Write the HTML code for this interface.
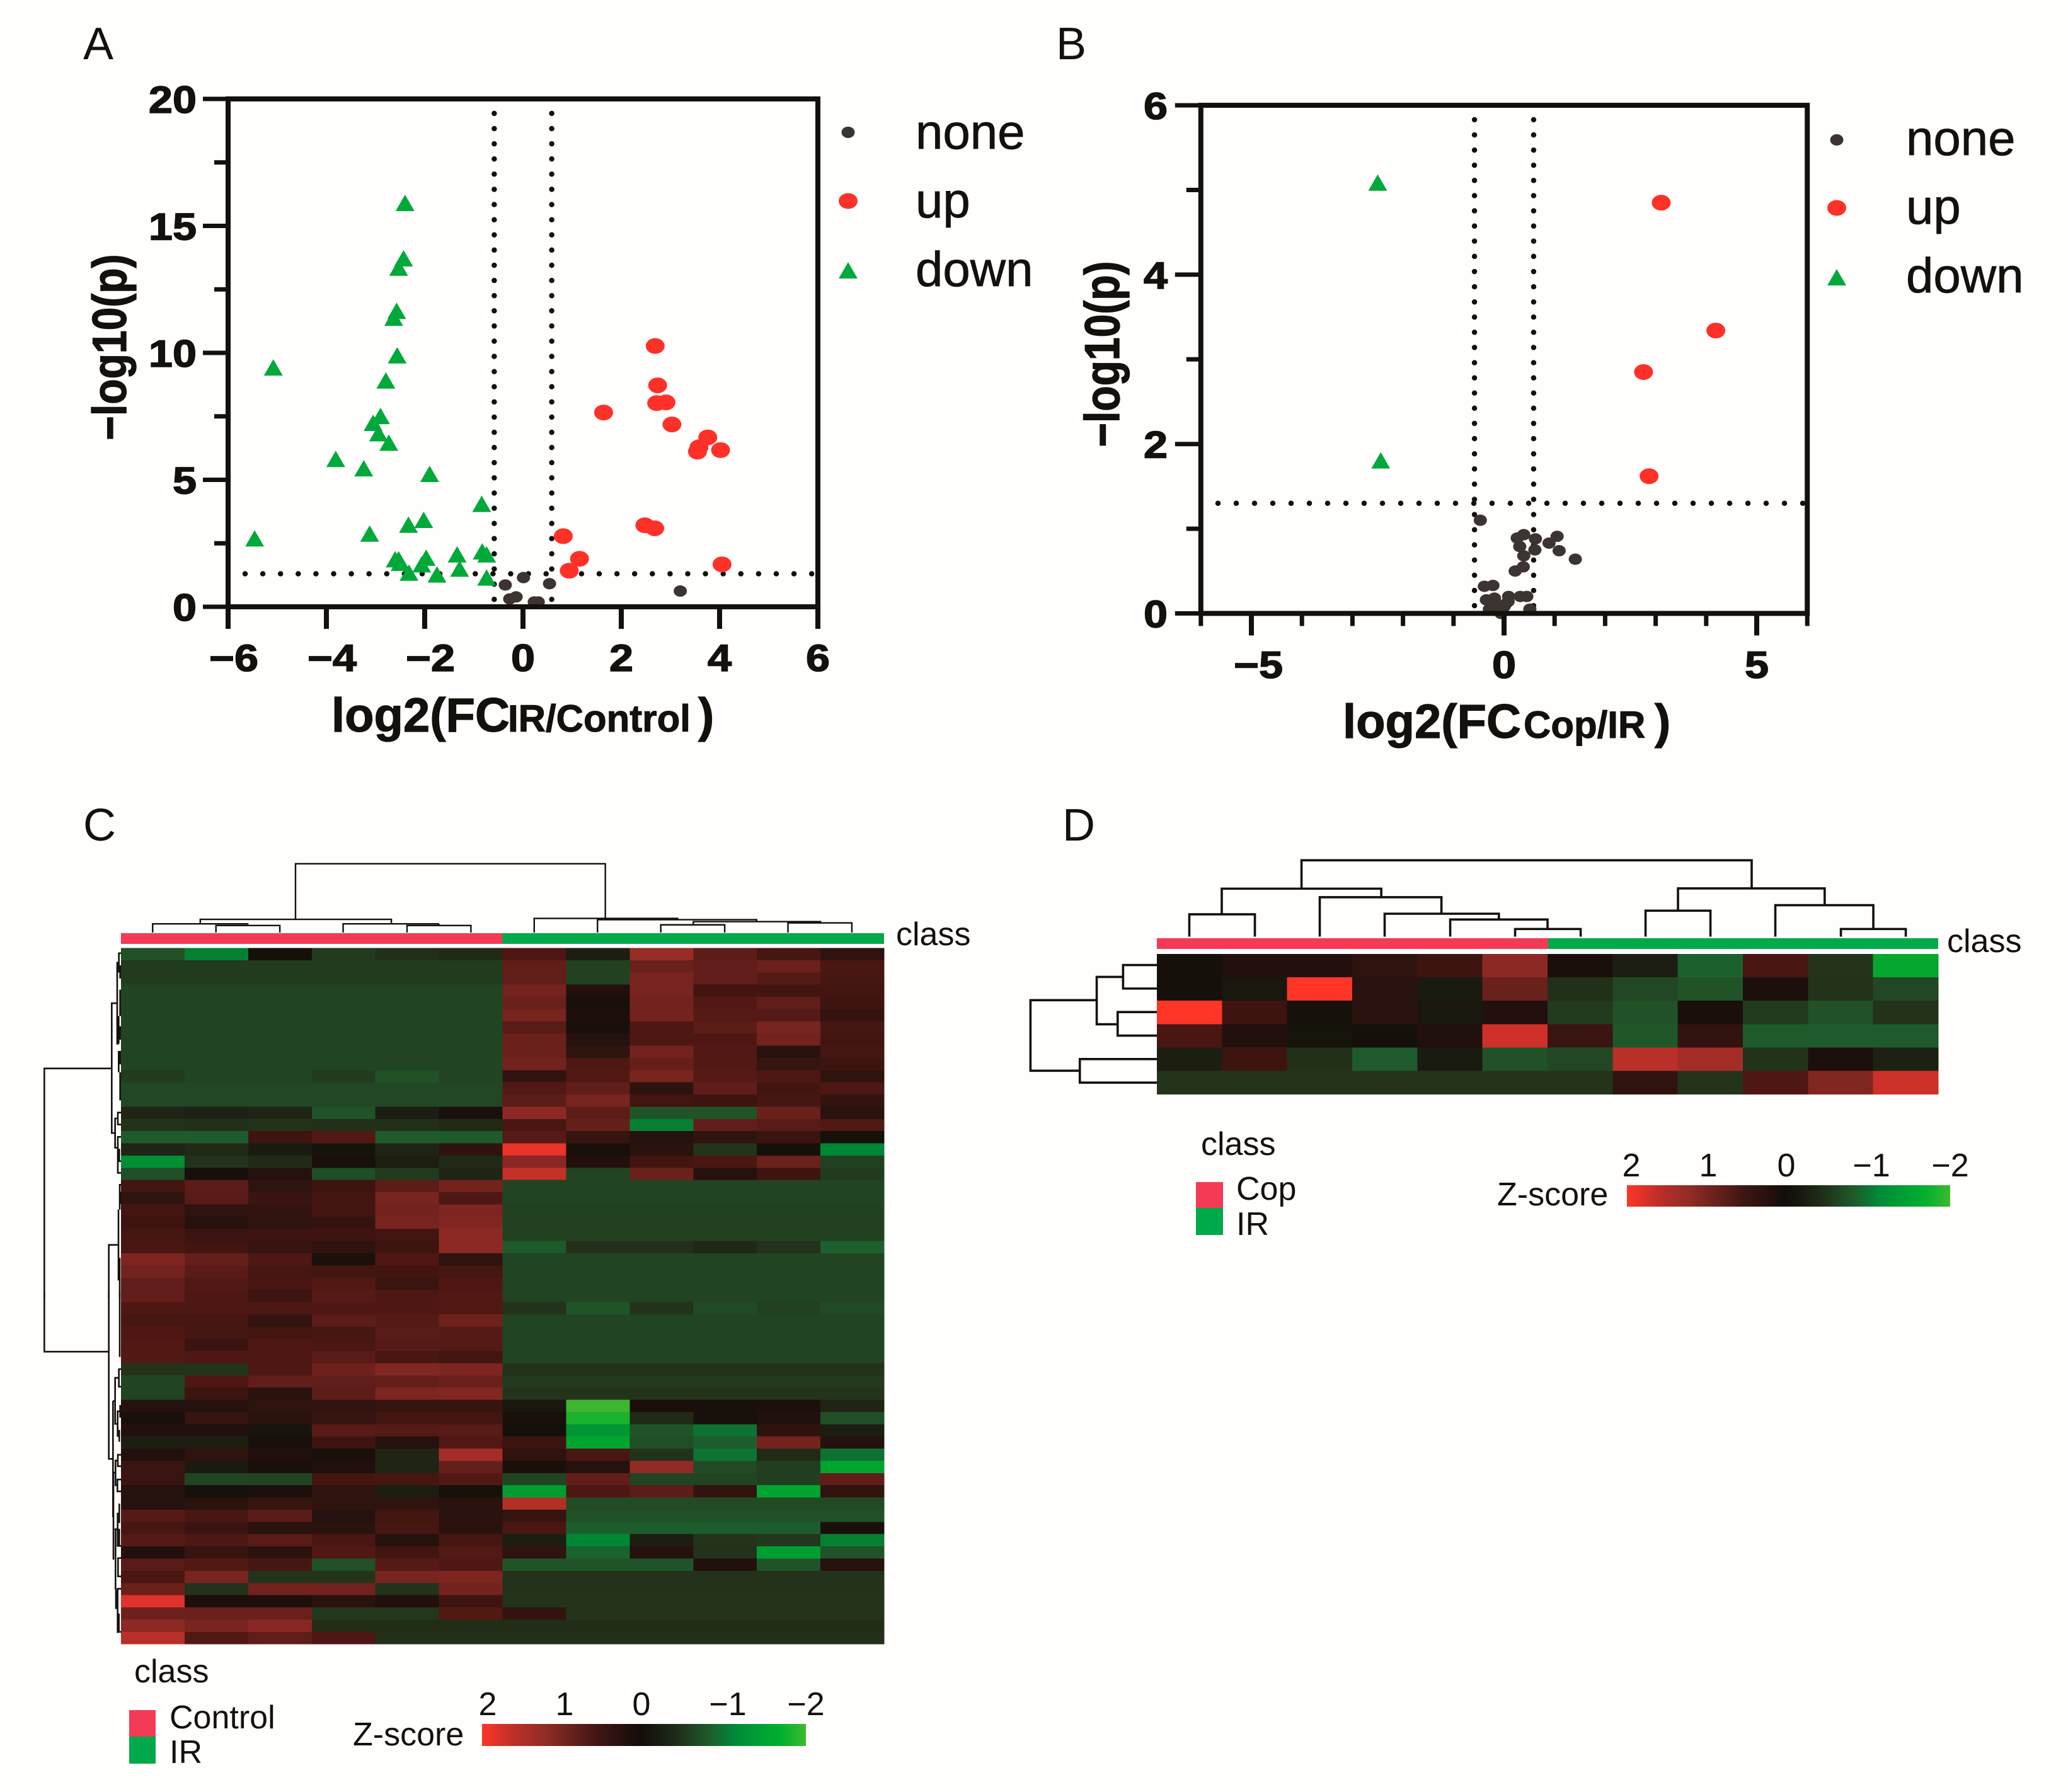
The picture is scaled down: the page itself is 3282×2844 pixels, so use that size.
<!DOCTYPE html>
<html lang="en">
<head>
<meta charset="utf-8">
<title>Volcano plots and heatmaps</title>
<style>
html,body{margin:0;padding:0;background:#fffefc}
svg{display:block}
text{font-family:"Liberation Sans",Arial,sans-serif;fill:#14100c}
.tick{font-weight:700;font-size:60px;stroke:#14100c;stroke-width:1.5px}
.title{font-weight:700;font-size:74px;stroke:#14100c;stroke-width:1.2px}
.sub{font-weight:700;font-size:60px;stroke:#14100c;stroke-width:1px}
.leg{font-size:78px;stroke:#14100c;stroke-width:.8px}
.panel{font-size:72px}
.small{font-size:52px}
.dend{fill:none;stroke:#14100c;vector-effect:non-scaling-stroke}
.dend path{vector-effect:non-scaling-stroke}
</style>
</head>
<body>
<svg id="fig" xmlns="http://www.w3.org/2000/svg" width="3282" height="2844" viewBox="0 0 3282 2844">
<defs>
<linearGradient id="zgrad" x1="0" x2="1" y1="0" y2="0">
<stop offset="0" stop-color="#ff3527"/><stop offset=".1" stop-color="#bb3029"/><stop offset=".2" stop-color="#8e2b25"/><stop offset=".36" stop-color="#3f1613"/><stop offset=".49" stop-color="#120d09"/><stop offset=".6" stop-color="#1f2c18"/><stop offset=".7" stop-color="#1f5a2b"/><stop offset=".78" stop-color="#008a3a"/><stop offset=".92" stop-color="#00b02f"/><stop offset="1" stop-color="#3dba2e"/>
</linearGradient>
</defs>
<rect width="3282" height="2844" fill="#fffefc"/>

<text class="panel" x="132" y="94">A</text>
<text class="panel" x="1676" y="94">B</text>
<text class="panel" x="132" y="1334">C</text>
<text class="panel" x="1686" y="1334">D</text>

<!-- Panel A -->
<g id="plotA"></g>
<text class="title" text-anchor="middle" transform="translate(200,551) rotate(-90) scale(1,1.15)" style="font-size:66px">−log10(p)</text>
<text class="title" x="526" y="1161" style="font-size:76px">log2(FC</text>
<text class="sub" x="806" y="1161">IR/Control</text>
<text class="title" x="1108" y="1161" style="font-size:76px">)</text>
<text class="leg" x="1453" y="236">none</text>
<text class="leg" x="1453" y="345">up</text>
<text class="leg" x="1453" y="454">down</text>

<!-- Panel B -->
<g id="plotB"></g>
<text class="title" text-anchor="middle" transform="translate(1776,562) rotate(-90) scale(1,1.18)" style="font-size:66px">−log10(p)</text>
<text class="title" x="2131" y="1171" style="font-size:76px">log2(FC</text>
<text class="sub" x="2418" y="1171">Cop/IR</text>
<text class="title" x="2626" y="1171" style="font-size:76px">)</text>
<text class="leg" x="3025" y="246">none</text>
<text class="leg" x="3025" y="355">up</text>
<text class="leg" x="3025" y="464">down</text>

<!-- Panel C -->
<g class="dend" stroke-width="2.4" transform="translate(50,1280) scale(.9566,.5102)">
<path vector-effect="non-scaling-stroke" d="M438 350V178H952V347M280 364V351H597V365M201 392V365H360M306 392V370H412V392M517 392V365H676M676 370V365M623 392V370H729V392M834 392V348H1072V352M939 392V352H1203V358M1098 368V358H1309V362M1044 392V368H1150V392M1255 392V362H1361V392"/>
</g>
<rect x="192" y="1481" width="605" height="17" fill="#f43a55"/>
<rect x="797" y="1481" width="606" height="17" fill="#00a94a"/>
<text class="small" x="1422" y="1500">class</text>
<g id="heatC"></g>
<g class="dend" stroke-width="2.6" transform="translate(60,1500) scale(.33333,.35714)">
<path vector-effect="non-scaling-stroke" d="M31 1568V548H352M378 258H352V835H368M386 78H378V438H385M396 36H386V118H396M392 90V148M392 198V315M385 315V438M392 360V420M385 470V565M392 470V530M392 565V690M381 770H368V900H381M396 744H381V797H396M396 852H381V1012H396M388 905V960M396 960H381M384 1332H338V1568M384 1175V1490M396 1065H390V1175M392 1095V1150M390 1390V1568"/>
</g>
<g class="dend" stroke-width="2.6" transform="translate(60,2050) scale(.33333,.36350)">
<path vector-effect="non-scaling-stroke" d="M31 0V262H338M338 0V730H356M390 0V285M358 477V985M358 477H368M386 376H368V577H380M396 338H386V415H396M392 522H380V630H388M392 495V550M388 603V655M360 790V1170M360 790H370M381 737H370V845H378M396 712H381V762H396M396 820H379V872H396M365 1037H378M370 1037V1300M380 965V1110H396M388 925V1010M388 1035V1110M396 1163H382V1243H396M372 1300V1385M396 1297H380V1380M380 1380V1490M386 1405V1485M396 1485H380"/>
</g>
<text class="small" x="213" y="2670">class</text>
<rect x="205" y="2714" width="42" height="42" fill="#f43a55"/>
<rect x="205" y="2756" width="42" height="43" fill="#00a94a"/>
<text class="small" x="269" y="2743">Control</text>
<text class="small" x="269" y="2798">IR</text>
<text class="small" x="560" y="2770">Z-score</text>
<rect x="765" y="2736" width="514" height="35" fill="url(#zgrad)"/>
<g id="cbC"></g>

<!-- Panel D -->
<g class="dend" stroke-width="3.6" transform="translate(1600,1280) scale(1.0727,.4847)">
<path vector-effect="non-scaling-stroke" d="M434 268V176H1100V268M316 353V269H552V297M268 426V353H365V426M461 426V297H641V351M557 426V351H726V370M654 426V370H798V400M750 426V401H847V426M991 340V268H1208V323M943 426V341H1039V426M1135 426V323H1280V401M1232 426V401H1328V426"/>
</g>
<g class="dend" stroke-width="3.6" transform="translate(1600,1280) scale(1.0727,.4847)">
<path vector-effect="non-scaling-stroke" d="M131 634H33V865H106M170 558H131V713H162M220 519H170V596H220M220 673H162V750H220M220 827H106V904H220"/>
</g>
<rect x="1836" y="1489" width="621" height="17" fill="#f43a55"/>
<rect x="2457" y="1489" width="619" height="17" fill="#00a94a"/>
<text class="small" x="3090" y="1511">class</text>
<g id="heatD"></g>
<text class="small" x="1906" y="1833">class</text>
<rect x="1898" y="1876" width="43" height="41" fill="#f43a55"/>
<rect x="1898" y="1917" width="43" height="43" fill="#00a94a"/>
<text class="small" x="1962" y="1904">Cop</text>
<text class="small" x="1962" y="1960">IR</text>
<text class="small" x="2376" y="1913">Z-score</text>
<rect x="2582" y="1881" width="513" height="34" fill="url(#zgrad)"/>
<g id="cbD"></g>
</svg>

<script>
// ===== Panel A values =====
const aNoneX=[0.01,-0.36,0.54,3.20,-0.27,-0.14,0.23,0.31];
const aNoneY=[1.15,0.86,0.91,0.62,0.31,0.39,0.19,0.19];
const aUpX=[2.69,2.74,2.72,2.91,1.64,3.03,3.76,3.58,3.55,4.02,2.48,2.68,0.82,1.15,0.94,4.05];
const aUpY=[10.27,8.72,8.02,8.05,7.65,7.18,6.67,6.28,6.11,6.17,3.21,3.09,2.78,1.89,1.42,1.67];
const aDownX=[-2.40,-2.43,-2.53,-2.57,-2.63,-2.56,-2.79,-5.08,-2.90,-3.05,-2.94,-2.73,-3.81,-3.24,-1.90,-0.84,-2.02,-2.33,-3.12,-5.46,-2.53,-2.60,-2.50,-1.97,-2.06,-2.32,-1.75,-1.34,-1.29,-0.83,-0.74,-0.74];
const aDownY=[15.88,13.70,13.33,11.63,11.36,9.88,8.89,9.40,7.49,7.22,6.81,6.44,5.80,5.43,5.21,4.03,3.40,3.21,2.86,2.67,1.85,1.85,1.71,1.91,1.65,1.32,1.25,2.04,1.48,2.16,2.04,1.13];
const aXTicks=[-6,-4,-2,0,2,4,6];
const aXMinor=[];
const aYTicks=[0,5,10,15,20];
const aYMinor=[2.5,7.5,12.5,17.5];
const aFcCut=0.585;
const aPCut=1.3;

// ===== Panel B values =====
const bNoneX=[-0.47,0.39,0.26,0.62,1.05,0.89,0.31,0.61,1.09,0.39,1.41,0.38,0.22,-0.22,-0.39,-0.35,-0.19,0.09,0.32,0.45,0.08,0,-0.29,0.51,-0.06,0.03,-0.17];
const bNoneY=[1.10,0.93,0.89,0.88,0.91,0.83,0.79,0.75,0.74,0.68,0.64,0.55,0.50,0.33,0.32,0.16,0.18,0.20,0.20,0.20,0.14,0.08,0.05,0.05,0,0.11,0.09];
const bUpX=[3.11,4.19,2.76,2.87];
const bUpY=[4.85,3.34,2.85,1.62];
const bDownX=[-2.50,-2.44];
const bDownY=[5.08,1.80];
const bXTicks=[-5,0,5];
const bXMinor=[-6,-4,-3,-2,-1,1,2,3,4,6];
const bYTicks=[0,2,4,6];
const bYMinor=[1,3,5];
const bFcCut=0.585;
const bPCut=1.3;

// ===== Heatmap C z-scores (57 rows x 12 samples) =====
const heatCValues=[
[-1.05,-1.7,0,-.7,-.5,-.4,.7,-.2,1.5,.9,.6,.3],
[-.7,-.7,-.7,-.7,-.7,-.7,.95,-.8,1.05,.95,1.05,.65],
[-.7,-.7,-.7,-.7,-.7,-.7,.95,-.8,1.2,.95,.8,.6],
[-.85,-.85,-.85,-.85,-.85,-.85,1.15,.15,1.2,.55,.55,.55],
[-.85,-.85,-.85,-.85,-.85,-.85,1.05,.05,1.15,.75,.95,.5],
[-.85,-.85,-.85,-.85,-.85,-.85,1.2,.1,1.15,.8,.8,.35],
[-.85,-.85,-.85,-.85,-.85,-.85,.85,.05,.7,.9,1.2,.6],
[-.85,-.85,-.85,-.85,-.85,-.85,1.05,.2,.7,.7,1.15,.55],
[-.85,-.85,-.85,-.85,-.85,-.85,1.05,.3,1.15,.75,.25,.6],
[-.85,-.85,-.85,-.85,-.85,-.85,1.15,.7,1.0,.75,.4,.5],
[-.7,-.85,-.85,-.7,-1.05,-.85,.35,.75,1.2,.8,.7,.3],
[-.9,-.9,-.9,-.9,-.9,-.9,.75,.95,.3,.95,.55,.7],
[-.9,-.9,-.9,-.9,-.9,-.9,.9,1.2,.55,.5,.6,.35],
[-.3,-.25,-.3,-1.1,-.2,.05,1.4,.9,-1.1,-1.1,1.05,.25],
[-.55,-.5,-.55,-.5,-.5,-.4,.65,1.0,-1.7,.95,.85,.75],
[-1.2,-1.2,.5,.75,-1.2,-1.2,.8,.4,.2,.3,.45,.02],
[-.3,-.4,-.15,-.05,-.3,.3,2.0,.05,.25,-.6,.02,-1.75],
[-1.8,-.55,-.4,.05,-.2,-.4,1.35,.15,.55,.65,1.05,-.8],
[-1.0,0,.2,-1.0,-.7,-.3,1.8,-.85,1.05,.2,.5,-.7],
[.55,.9,.3,.5,.9,1.15,-.85,-.85,-.85,-.85,-.85,-.85],
[.3,.85,.45,.55,1.2,.7,-.85,-.85,-.85,-.85,-.85,-.85],
[.55,.3,.35,.55,1.15,1.25,-.8,-.8,-.8,-.8,-.8,-.8],
[.5,.2,.3,.35,1.2,1.3,-.8,-.8,-.8,-.8,-.8,-.8],
[.6,.45,.5,.5,.55,1.4,-.8,-.8,-.8,-.8,-.8,-.8],
[.65,.55,.4,.3,.5,1.4,-1.2,-.5,-.5,-.35,-.55,-1.3],
[1.25,1.0,.7,.1,.7,.3,-.85,-.85,-.85,-.85,-.85,-.85],
[1.15,.85,.6,.55,.55,.6,-.85,-.85,-.85,-.85,-.85,-.85],
[.95,.75,.65,.75,.45,.7,-.85,-.85,-.85,-.85,-.85,-.85],
[.95,.7,.5,.8,.7,.75,-.85,-.85,-.85,-.85,-.85,-.85],
[.7,.7,.7,.7,.7,.75,-.55,-1.1,-.55,-.95,-.8,-.95],
[.6,.6,.35,.9,.8,1.1,-.85,-.85,-.85,-.85,-.85,-.85],
[.7,.6,.55,.6,.85,.8,-.85,-.85,-.85,-.85,-.85,-.85],
[.75,.45,.7,.65,.8,.8,-.85,-.85,-.85,-.85,-.85,-.85],
[.75,.7,.7,.85,.65,.55,-.85,-.85,-.85,-.85,-.85,-.85],
[-.6,-.6,.7,1.1,1.3,1.25,-.55,-.55,-.55,-.55,-.55,-.55],
[-.85,.7,.95,.95,1.0,1.05,-.7,-.7,-.7,-.7,-.7,-.7],
[-.85,.5,.25,.9,1.25,1.3,-.6,-.6,-.6,-.6,-.6,-.6],
[.2,.2,.3,.35,.4,.4,-.1,-2.4,.08,.04,.1,-.3],
[.05,.4,.25,.4,.55,.55,.05,-2.2,-.4,.04,.15,-1.0],
[.15,.15,-.05,.85,.8,.85,.02,-1.85,-1.1,-1.6,.3,-.2],
[-.2,-.2,.05,.5,.2,.75,.5,-1.95,-1.0,-1.25,1.15,.2],
[.15,.3,.15,.05,-.3,1.6,.3,.65,-.55,-1.6,-.4,-1.6],
[.45,-.15,.05,.15,-.3,1.0,.08,.2,1.45,-.95,-.75,-1.95],
[.45,-.85,-.85,.55,.6,.75,-.85,.95,-.85,-.85,-.75,.95],
[.2,-.02,.1,.3,-.2,-.02,-1.9,.7,.9,.35,-1.95,.35],
[.2,.25,.4,.3,.3,.25,1.7,-.95,-.95,-.95,-.95,-.95],
[.8,.65,.85,.2,.55,.25,.4,-1.05,-1.05,-1.05,-1.05,-1.05],
[.6,.45,.25,.25,.6,.25,.65,-1.25,-1.25,-1.25,-1.25,.05],
[.8,.7,.85,.65,.2,.6,-.2,-1.75,-.2,-.6,-.65,-1.7],
[.15,.4,.25,.75,.55,.75,.3,-1.35,.2,-.55,-1.9,-1.1],
[.85,.75,.6,-1.05,.8,.7,-1.1,-1.1,-1.1,.15,-1.1,.2],
[.65,1.2,-.6,-.6,1.2,1.25,-.55,-.55,-.55,-.55,-.55,-.55],
[1.05,-.55,1.15,1.15,-.55,1.15,-.55,-.55,-.55,-.55,-.55,-.55],
[1.95,.1,.1,.25,.15,.5,-.6,-.6,-.6,-.6,-.6,-.6],
[1.1,1.05,1.05,-.65,-.65,.75,.35,-.6,-.6,-.6,-.6,-.6],
[1.4,1.2,1.35,-.45,-.45,-.45,-.45,-.45,-.45,-.45,-.45,-.45],
[1.75,.75,.95,.7,-.5,-.5,-.5,-.5,-.5,-.5,-.5,-.5]
];

// ===== Heatmap D z-scores (6 rows x 12 samples) =====
const heatDValues=[
[.02,.15,.15,.3,.5,1.4,.05,-.2,-1.3,.65,-.6,-2.0],
[.02,-.1,2.1,.25,-.15,1.05,-.5,-.9,-1.1,.1,-.55,-.9],
[2.1,.5,-.02,.25,-.1,.15,-.7,-1.05,.05,-.7,-1.05,-.55],
[.65,.15,-.05,0,.15,1.85,.45,-1.15,.35,-1.2,-1.2,-1.2],
[-.2,.5,-.5,-1.2,-.15,-1.05,-.9,1.75,1.6,-.55,.1,-.25],
[-.6,-.6,-.6,-.6,-.6,-.6,-.6,.3,-.6,.7,1.3,1.85]
];

const zBarLabels=["2","1","0","−1","−2"];

// ===== colour scale =====
const zStops=[-2.4,-2.2,-1.95,-1.75,-1.6,-1.3,-1.1,-.85,-.6,-.4,-.2,0,.1,.3,.5,.7,.9,1.1,1.3,1.5,1.75,1.95,2.1];
const zColors=[[63,181,48],[26,179,44],[0,165,48],[0,135,52],[14,115,50],[28,96,46],[32,84,40],[33,68,35],[35,52,27],[33,42,22],[28,30,18],[21,16,10],[28,15,12],[46,19,14],[62,20,16],[78,23,19],[92,28,24],[110,33,28],[130,38,34],[152,43,38],[185,48,40],[224,50,42],[255,53,39]];
function zColor(z){
  if(z<=zStops[0])return 'rgb('+zColors[0].join(',')+')';
  for(let i=1;i<zStops.length;i++){
    if(z<=zStops[i]){
      const t=(z-zStops[i-1])/(zStops[i]-zStops[i-1]);
      const c=zColors[i-1].map((v,k)=>Math.round(v+(zColors[i][k]-v)*t));
      return 'rgb('+c.join(',')+')';
    }
  }
  return 'rgb('+zColors[zColors.length-1].join(',')+')';
}

const NS='http://www.w3.org/2000/svg';
function mk(parent,tag,attrs){
  const el=document.createElementNS(NS,tag);
  for(const k in attrs)el.setAttribute(k,attrs[k]);
  parent.appendChild(el);
  return el;
}

const INK='#14100c', GREY='#3b3431', RED='#fe3129', GREEN='#00a93a';

function drawMarker(g,kind,cx,cy,name){
  let el;
  if(kind==='none'){
    el=mk(g,'ellipse',{cx:cx,cy:cy,rx:10.5,ry:9,fill:GREY});
  }else if(kind==='up'){
    el=mk(g,'ellipse',{cx:cx,cy:cy,rx:15,ry:12.5,fill:RED});
  }else{
    el=mk(g,'polygon',{points:(cx-15)+','+(cy+12)+' '+(cx+15)+','+(cy+12)+' '+cx+','+(cy-14),fill:GREEN});
  }
  
  
}

function drawVolcano(cfg){
  const g=document.getElementById(cfg.id);
  const sx=cfg.sx, sy=cfg.sy;

  // dotted thresholds
  const vals=[-cfg.fc,cfg.fc];
  vals.forEach(function(v){
    const l=mk(g,'line',{x1:sx(v),x2:sx(v),y1:cfg.dotTop,y2:cfg.dotBottom,stroke:INK,'stroke-width':8.5,'stroke-linecap':'round','stroke-dasharray':'0 24.1'});
    
    
  });
  const h=mk(g,'line',{x1:cfg.dotLeft,x2:sx(cfg.xMax)-4,y1:sy(cfg.p),y2:sy(cfg.p),stroke:INK,'stroke-width':8.5,'stroke-linecap':'round','stroke-dasharray':'0 '+cfg.hGap});
  
  

  // marks
  cfg.noneX.forEach(function(x,i){drawMarker(g,'none',sx(x),sy(cfg.noneY[i]),'point-none');});
  cfg.upX.forEach(function(x,i){drawMarker(g,'up',sx(x),sy(cfg.upY[i]),'point-up');});
  cfg.downX.forEach(function(x,i){drawMarker(g,'down',sx(x),sy(cfg.downY[i]),'point-down');});

  // axes frame
  const frame=mk(g,'rect',{x:sx(cfg.xMin),y:sy(cfg.yMax),width:sx(cfg.xMax)-sx(cfg.xMin),height:sy(0)-sy(cfg.yMax),fill:'none',stroke:INK,'stroke-width':8});
  
  

  // x ticks
  cfg.xTicks.forEach(function(v){
    const t=mk(g,'line',{x1:sx(v),x2:sx(v),y1:sy(0),y2:sy(0)+cfg.majorLen,stroke:INK,'stroke-width':8});
    
    
    const s=mk(g,'text',{'text-anchor':'middle','class':'tick',transform:'translate('+(sx(v)+(v<0?cfg.labelShift:0))+','+cfg.xLabelY+') scale(1.14,1)'});
    s.textContent=(v<0?'−':'')+Math.abs(v);
    
    
  });
  cfg.xMinor.forEach(function(v){
    const t=mk(g,'line',{x1:sx(v),x2:sx(v),y1:sy(0),y2:sy(0)+cfg.minorLen,stroke:INK,'stroke-width':7});
    
    
  });

  // y ticks
  cfg.yTicks.forEach(function(v){
    const t=mk(g,'line',{x1:sx(cfg.xMin)-cfg.majorLenY,x2:sx(cfg.xMin),y1:sy(v),y2:sy(v),stroke:INK,'stroke-width':7});
    
    
    const s=mk(g,'text',{'text-anchor':'end','class':'tick',transform:'translate('+cfg.yLabelX+','+(sy(v)+22)+') scale(1.14,1)'});
    s.textContent=String(v);
    
    
  });
  cfg.yMinor.forEach(function(v){
    const t=mk(g,'line',{x1:sx(cfg.xMin)-cfg.minorLenY,x2:sx(cfg.xMin),y1:sy(v),y2:sy(v),stroke:INK,'stroke-width':7});
    
    
  });

  // legend markers
  drawMarker(g,'none',cfg.legendX,cfg.legendY[0],'legend-marker-none');
  drawMarker(g,'up',cfg.legendX,cfg.legendY[1],'legend-marker-up');
  drawMarker(g,'down',cfg.legendX,cfg.legendY[2],'legend-marker-down');
}

function xAxisA(v){return 362+(v+6)*78;}
function yAxisA(v){return 963-v*40.3;}
function xAxisB(v){return 2387+v*80.2;}
function yAxisB(v){return 973.5-v*134.4;}

drawVolcano({id:'plotA',sx:xAxisA,sy:yAxisA,xMin:-6,xMax:6,yMax:20,fc:aFcCut,p:aPCut,
  noneX:aNoneX,noneY:aNoneY,upX:aUpX,upY:aUpY,downX:aDownX,downY:aDownY,
  xTicks:aXTicks,xMinor:aXMinor,yTicks:aYTicks,yMinor:aYMinor,
  dotTop:180,dotBottom:960,dotLeft:389,hGap:28.1,majorLen:35,minorLen:20,majorLenY:40,minorLenY:22,
  xLabelY:1065,yLabelX:312,labelShift:9,legendX:1346,legendY:[210,319,430]});

drawVolcano({id:'plotB',sx:xAxisB,sy:yAxisB,xMin:-6,xMax:6,yMax:6,fc:bFcCut,p:bPCut,
  noneX:bNoneX,noneY:bNoneY,upX:bUpX,upY:bUpY,downX:bDownX,downY:bDownY,
  xTicks:bXTicks,xMinor:bXMinor,yTicks:bYTicks,yMinor:bYMinor,
  dotTop:190,dotBottom:970,dotLeft:1933,hGap:29,majorLen:35,minorLen:20,majorLenY:41,minorLenY:23,
  xLabelY:1076,yLabelX:1853,labelShift:11,legendX:2915,legendY:[222,330,441]});

function drawHeat(id,values,left,top,cw,rh){
  const g=document.getElementById(id);
  values.forEach(function(row,r){
    row.forEach(function(z,c){
      const cell=mk(g,'rect',{x:left+c*cw,y:top+r*rh,width:cw+.5,height:rh+.5,fill:zColor(z),'shape-rendering':'crispEdges'});
      
      
    });
  });
}
drawHeat('heatC',heatCValues,192,1504.5,100.92,19.38);
drawHeat('heatD',heatDValues,1836,1514,103.33,37.1);

function drawBarLabels(id,xs,y){
  const g=document.getElementById(id);
  zBarLabels.forEach(function(t,i){
    const s=mk(g,'text',{x:xs[i],y:y,'text-anchor':'middle','class':'small'});
    s.textContent=t;
    
    
  });
}
drawBarLabels('cbC',[774,896,1018,1155,1279],2722);
drawBarLabels('cbD',[2589,2711,2835,2970,3095],1867);
</script>
</body>
</html>
